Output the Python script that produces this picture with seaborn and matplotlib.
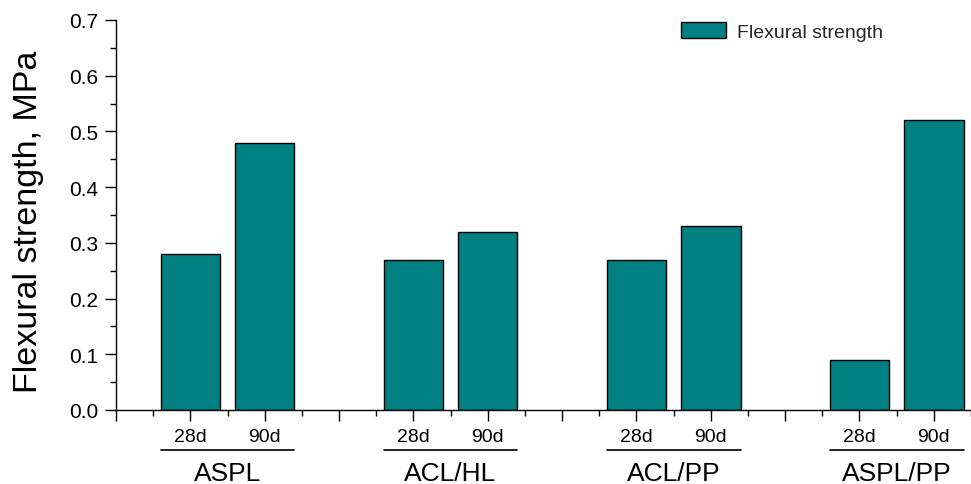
import seaborn as sns
import matplotlib.pyplot as plt
from matplotlib.ticker import MultipleLocator
import pandas as pd

# Datos
grupos = ['ASPL', 'ACL/HL', 'ACL/PP', 'ASPL/PP']
edades = ['28d', '90d']
resistencia = [[0.28, 0.48],
               [0.27, 0.32],
               [0.27, 0.33],
               [0.09, 0.52]]
serie = 'Flexural strength'
color_barra = '#008080'

sns.set_style('ticks')
plt.rcParams['font.family'] = ['Liberation Sans', 'DejaVu Sans']

# posiciones: cada grupo ocupa 3 unidades (2 barras + hueco)
filas = []
for g, nombre in enumerate(grupos):
    for j, edad in enumerate(edades):
        filas.append({'pos': 3 * g + 1 + j, 'grupo': nombre, 'edad': edad,
                      'valor': resistencia[g][j]})
df = pd.DataFrame(filas)

fig = plt.figure(figsize=(9.71, 4.85), dpi=100)
ax = fig.add_axes([116 / 971, 74 / 485, 855 / 971, 390 / 485])

sns.barplot(data=df, x='pos', y='valor', native_scale=True, width=0.8,
            color=color_barra, saturation=1, edgecolor='black', linewidth=1,
            label=serie, ax=ax)

ax.set_xlim(0, 11.5)
ax.set_ylim(0, 0.7)
ax.yaxis.set_major_locator(MultipleLocator(0.1))
ax.yaxis.set_minor_locator(MultipleLocator(0.05))
ax.yaxis.set_major_formatter(plt.FormatStrFormatter('%.1f'))

ticks = list(range(0, 12))
etiquetas = []
for t in ticks:
    if t % 3 == 0:
        etiquetas.append('')
    else:
        etiquetas.append(edades[(t % 3) - 1])
ax.set_xticks(ticks)
ax.set_xticklabels(etiquetas)
ax.xaxis.set_minor_locator(MultipleLocator(0.5))

ax.tick_params(axis='both', which='major', direction='out', length=8,
               width=1, color='black', labelcolor='black')
ax.tick_params(axis='both', which='minor', direction='out', length=4,
               width=1, color='black')
ax.tick_params(axis='y', which='major', labelsize=15, pad=5)
ax.tick_params(axis='x', which='major', labelsize=14, pad=5)

for lado in ['top', 'right']:
    ax.spines[lado].set_visible(False)
for lado in ['left', 'bottom']:
    ax.spines[lado].set_color('black')
    ax.spines[lado].set_linewidth(1)

ax.set_xlabel('')
ax.set_ylabel('Flexural strength, MPa', fontsize=24.5, color='black')
ax.yaxis.set_label_coords(-0.084, 0.485)

# nombres de grupo con línea debajo de las edades
trans = ax.get_xaxis_transform()
for g, nombre in enumerate(grupos):
    izq = 3 * g + 1 - 0.4
    der = 3 * g + 2 + 0.4
    ax.plot([izq, der], [-0.1026, -0.1026], color='black', lw=1.2,
            transform=trans, clip_on=False)
    ax.text((izq + der) / 2, -0.162, nombre, transform=trans, ha='center',
            va='center', fontsize=19, color='black')

ax.legend(loc='upper left', bbox_to_anchor=(681 / 971, 1 - 23 / 485),
          bbox_transform=fig.transFigure, frameon=False, fontsize=14,
          borderpad=0, borderaxespad=0, handlelength=2.3, handleheight=0.9,
          handletextpad=0.6)

plt.savefig('out.png', dpi=100)
